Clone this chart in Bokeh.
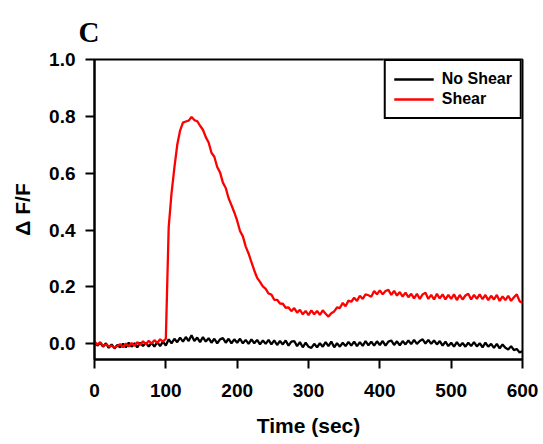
import numpy as np
from bokeh.plotting import figure
from bokeh.models import Range1d, FixedTicker, PrintfTickFormatter, Legend, LegendItem
from bokeh.embed import file_html
from bokeh.resources import INLINE

# Sample times (sec), one value every 4 s
time_sec = list(range(0, 601, 4))

no_shear = [
    0.006, -0.006, 0.004, -0.010, 0.002, -0.014, -0.002, -0.016, -0.004, -0.012,
    0.000, -0.012, 0.004, -0.010, 0.002, -0.012, 0.004, -0.008, 0.004, -0.010,
    0.004, -0.010, 0.006, -0.008, 0.008, -0.006, 0.016, 0.002, 0.018, 0.006,
    0.022, 0.008, 0.024, 0.010, 0.030, 0.010, 0.022, 0.006, 0.024, 0.008,
    0.020, 0.004, 0.018, 0.002, 0.016, 0.020, 0.004, 0.018, 0.002, 0.016,
    0.004, 0.018, 0.002, 0.014, 0.000, 0.016, 0.002, 0.014, -0.002, 0.012,
    0.000, 0.014, -0.002, 0.012, -0.004, 0.010, -0.002, 0.012, -0.006, 0.008,
    0.010, -0.008, 0.006, -0.012, 0.004, -0.010, -0.014, 0.000, -0.012, 0.002,
    -0.010, 0.006, -0.008, 0.008, -0.012, 0.002, -0.010, 0.004, -0.008, 0.007,
    -0.006, 0.008, -0.008, 0.006, -0.007, 0.010, -0.005, 0.008, -0.006, 0.009,
    -0.004, 0.010, -0.006, 0.008, 0.012, -0.004, 0.009, -0.005, 0.010, -0.002,
    0.012, -0.001, 0.014, 0.000, 0.010, 0.016, 0.001, 0.014, 0.000, 0.012,
    -0.002, 0.010, -0.006, 0.008, -0.008, 0.004, -0.010, 0.006, -0.008, 0.003,
    -0.010, 0.004, -0.008, 0.006, -0.009, 0.002, -0.012, 0.004, -0.010, 0.000,
    -0.014, 0.000, -0.016, -0.002, -0.014, -0.020, -0.008, -0.022, -0.018, -0.030,
    -0.026,
]

shear = [
    0.008, -0.003, 0.006, -0.007, -0.002, -0.008, -0.006, -0.014, -0.008, -0.001,
    -0.012, 0.001, -0.009, 0.003, -0.007, 0.006, -0.004, 0.009, -0.001, 0.011,
    0.001, 0.013, 0.003, 0.016, 0.008, 0.018, 0.410, 0.530, 0.620, 0.700,
    0.750, 0.778, 0.782, 0.785, 0.798, 0.787, 0.783, 0.767, 0.753, 0.727,
    0.708, 0.672, 0.658, 0.622, 0.603, 0.567, 0.548, 0.512, 0.488, 0.462,
    0.433, 0.397, 0.378, 0.342, 0.318, 0.287, 0.258, 0.232, 0.218, 0.202,
    0.193, 0.177, 0.173, 0.155, 0.155, 0.142, 0.141, 0.127, 0.128, 0.115,
    0.126, 0.110, 0.120, 0.104, 0.116, 0.101, 0.118, 0.104, 0.116, 0.102,
    0.118, 0.106, 0.096, 0.108, 0.114, 0.128, 0.126, 0.144, 0.132, 0.152,
    0.148, 0.162, 0.151, 0.169, 0.158, 0.174, 0.171, 0.166, 0.186, 0.174,
    0.188, 0.174, 0.186, 0.190, 0.172, 0.186, 0.170, 0.182, 0.166, 0.180,
    0.164, 0.176, 0.160, 0.176, 0.158, 0.174, 0.180, 0.158, 0.172, 0.156,
    0.176, 0.160, 0.174, 0.156, 0.172, 0.158, 0.174, 0.154, 0.172, 0.156,
    0.170, 0.176, 0.156, 0.172, 0.158, 0.174, 0.157, 0.172, 0.154, 0.169,
    0.156, 0.172, 0.151, 0.167, 0.154, 0.169, 0.151, 0.164, 0.174, 0.150,
    0.144,
]

x_ticks = [0, 100, 200, 300, 400, 500, 600]
y_ticks = [0.0, 0.2, 0.4, 0.6, 0.8, 1.0]
series_names = ["No Shear", "Shear"]
panel_letter = "C"

FONT = "Liberation Sans"

p = figure(width=543, height=444,
           x_range=Range1d(0, 600), y_range=Range1d(-0.055, 1.0),
           output_backend="svg", toolbar_location=None,
           min_border_left=94, min_border_right=21,
           min_border_top=59, min_border_bottom=85,
           title=panel_letter)

p.title.text_font = "Liberation Serif"
p.title.text_font_style = "bold"
p.title.text_font_size = "29px"
p.title.align = "left"
p.title.offset = -16
p.title.standoff = 23
p.title.text_color = "black"

p.xgrid.visible = False
p.ygrid.visible = False
p.background_fill_color = "white"
p.border_fill_color = "white"
p.outline_line_color = "black"
p.outline_line_width = 2
p.outline_line_alpha = 1

r_no = p.line(time_sec, no_shear, line_color="black", line_width=2.3)
r_sh = p.line(time_sec, shear, line_color="#ff0000", line_width=2.3)

for ax in (p.xaxis[0], p.yaxis[0]):
    ax.axis_line_width = 2
    ax.axis_line_color = "black"
    ax.major_tick_line_width = 2
    ax.major_tick_line_color = "black"
    ax.major_tick_in = 0
    ax.major_tick_out = 9
    ax.minor_tick_line_color = None
    ax.major_label_text_font = FONT
    ax.major_label_text_font_style = "bold"
    ax.major_label_text_font_size = "19px"
    ax.major_label_text_color = "black"
    ax.axis_label_text_font = FONT
    ax.axis_label_text_font_style = "bold"
    ax.axis_label_text_font_size = "21px"
    ax.axis_label_text_color = "black"

p.xaxis[0].ticker = FixedTicker(ticks=x_ticks)
p.yaxis[0].ticker = FixedTicker(ticks=y_ticks)
p.yaxis[0].formatter = PrintfTickFormatter(format="%.1f")
p.xaxis[0].axis_label = "Time (sec)"
p.yaxis[0].axis_label = "\u0394 F/F"
p.xaxis[0].major_label_standoff = 15
p.yaxis[0].major_label_standoff = 10
p.xaxis[0].axis_label_standoff = 14
p.yaxis[0].axis_label_standoff = 12

legend = Legend(items=[LegendItem(label=series_names[0], renderers=[r_no]),
                       LegendItem(label=series_names[1], renderers=[r_sh])],
                location="top_right")
legend.margin = 0
legend.padding = 8
legend.spacing = 0
legend.glyph_width = 40
legend.glyph_height = 20
legend.label_height = 20
legend.label_standoff = 8
legend.label_text_font = FONT
legend.label_text_font_style = "bold"
legend.label_text_font_size = "16px"
legend.label_text_color = "black"
legend.border_line_color = "black"
legend.border_line_width = 2
legend.border_line_alpha = 1
legend.background_fill_alpha = 1
p.add_layout(legend)

open("out.html", "w").write(file_html(p, INLINE))
